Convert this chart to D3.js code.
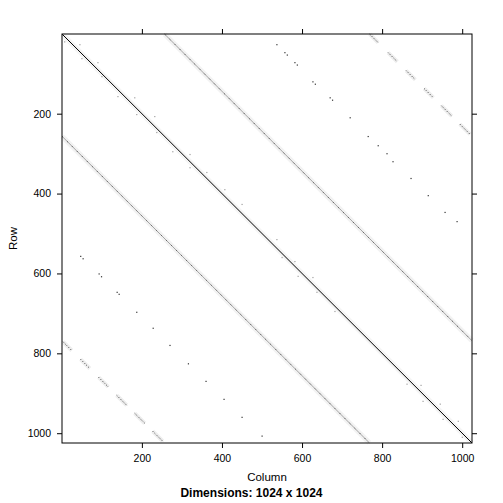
<!DOCTYPE html>
<html>
<head>
<meta charset="utf-8">
<title>Sparse matrix image</title>
<script src="https://d3js.org/d3.v7.min.js"></script>
<style>
  body { margin: 0; background: #fff; }
  text { font-family: "Liberation Sans", Arial, sans-serif; }
</style>
</head>
<body>
<div id="chart"></div>
<script>
// matrix size and axis ticks
const nDim = 1024;
const tickVals = [200, 400, 600, 800, 1000];

// dense bands: [offset (col - row), first row, last row]
const denseBands = [[0, 1, 1024]];
const grayBands = [[256, 1, 768], [-256, 257, 1024]];

// dotted cluster bands (offset +-768): runs of rows where entries sit
const upperRuns768 = [[1, 22], [47, 70], [92, 115], [137, 160], [180, 206], [226, 252]];
const lowerRuns768 = [[771, 793], [815, 838], [860, 884], [905, 930], [950, 975], [995, 1020]];

// sparse entries on the +-512 diagonals: [row, col]
const upper512 = [[27, 537], [47, 557], [53, 563], [72, 582], [78, 588], [120, 627], [126, 633],
  [160, 670], [166, 676], [210, 720], [257, 765], [280, 790], [300, 812], [320, 827],
  [362, 872], [405, 915], [447, 957], [470, 987]];
const lower512 = [[557, 47], [563, 53], [601, 93], [608, 99], [647, 138], [652, 143],
  [697, 187], [737, 228], [780, 270], [826, 316], [870, 360], [915, 405], [960, 450], [1007, 500]];

// scattered entries close to the main diagonal: [row, col]
const nearDiag = [[20, 7], [27, 45], [62, 50], [72, 90], [107, 100], [157, 140], [160, 182],
  [202, 187], [207, 232], [247, 237], [295, 277], [302, 320], [335, 320], [347, 362],
  [390, 407], [427, 450], [515, 537], [560, 550], [570, 582], [607, 590], [610, 627],
  [647, 637], [695, 682], [877, 862], [880, 897], [920, 902], [927, 945], [965, 952],
  [970, 990], [1010, 1000]];

const W = 503, H = 503;
const margin = {top: 34, right: 31, bottom: 60, left: 62};
const w = W - margin.left - margin.right;
const h = H - margin.top - margin.bottom;

const svg = d3.select("#chart").append("svg")
    .attr("width", W)
    .attr("height", H);

const g = svg.append("g")
    .attr("transform", "translate(" + margin.left + "," + margin.top + ")");

const x = d3.scaleLinear().domain([0.5, nDim + 0.5]).range([0, w]);
const y = d3.scaleLinear().domain([0.5, nDim + 0.5]).range([0, h]);

const plot = g.append("g");

// segment along a diagonal
function seg(sel, offset, r0, r1) {
  return sel.append("line")
      .attr("x1", x(r0 + offset))
      .attr("y1", y(r0))
      .attr("x2", x(r1 + offset))
      .attr("y2", y(r1));
}

// soft halos behind the bands
grayBands.forEach(function(b) {
  seg(plot, b[0], b[1], b[2]).attr("stroke", "#f2f2f2").attr("stroke-width", 5);
});
denseBands.forEach(function(b) {
  seg(plot, b[0], b[1], b[2]).attr("stroke", "#f4f4f4").attr("stroke-width", 5);
});

grayBands.forEach(function(b) {
  seg(plot, b[0], b[1], b[2])
      .attr("stroke", "#9a9a9a")
      .attr("stroke-width", 0.9);
  seg(plot, b[0], b[1], b[2])
      .attr("stroke", "#444")
      .attr("stroke-width", 0.9)
      .attr("stroke-dasharray", "1 6");
});

upperRuns768.forEach(function(r) {
  seg(plot, 768, r[0], r[1]).attr("stroke", "#eee").attr("stroke-width", 4);
  seg(plot, 768, r[0], r[1]).attr("stroke", "#333").attr("stroke-width", 1)
      .attr("stroke-dasharray", "1 1.6");
});
lowerRuns768.forEach(function(r) {
  seg(plot, -768, r[0], r[1]).attr("stroke", "#eee").attr("stroke-width", 4);
  seg(plot, -768, r[0], r[1]).attr("stroke", "#333").attr("stroke-width", 1)
      .attr("stroke-dasharray", "1 1.6");
});

denseBands.forEach(function(b) {
  seg(plot, b[0], b[1], b[2])
      .attr("stroke", "#000")
      .attr("stroke-width", 1);
});

plot.selectAll("rect.near")
    .data(nearDiag)
    .enter().append("rect")
    .attr("class", "near")
    .attr("x", d => x(d[1]) - 0.5)
    .attr("y", d => y(d[0]) - 0.5)
    .attr("width", 1.2)
    .attr("height", 1.2)
    .attr("fill", "#a0a0a0");

plot.selectAll("rect.sp")
    .data(upper512.concat(lower512))
    .enter().append("rect")
    .attr("class", "sp")
    .attr("x", d => x(d[1]) - 0.5)
    .attr("y", d => y(d[0]) - 0.5)
    .attr("width", 1.2)
    .attr("height", 1.2)
    .attr("fill", "#333");

// panel border
g.append("rect")
    .attr("width", w)
    .attr("height", h)
    .attr("fill", "none")
    .attr("stroke", "#000")
    .attr("stroke-width", 1);

// axes
const fmt = d3.format("d");
function styleAxis(sel) {
  sel.select(".domain").remove();
  sel.selectAll("line").attr("stroke", "#000");
  sel.selectAll("text").attr("font-size", "10.5px").attr("fill", "#000")
     .attr("font-family", "Liberation Sans, Arial, sans-serif");
}

g.append("g")
    .attr("transform", "translate(0," + h + ")")
    .call(d3.axisBottom(x).tickValues(tickVals).tickFormat(fmt).tickSize(5).tickPadding(7))
    .call(styleAxis);
g.append("g")
    .call(d3.axisTop(x).tickValues(tickVals).tickSize(5).tickFormat(""))
    .call(styleAxis);
g.append("g")
    .call(d3.axisLeft(y).tickValues(tickVals).tickFormat(fmt).tickSize(5).tickPadding(6))
    .call(styleAxis);
g.append("g")
    .attr("transform", "translate(" + w + ",0)")
    .call(d3.axisRight(y).tickValues(tickVals).tickSize(5).tickFormat(""))
    .call(styleAxis);

// labels
svg.append("text")
    .attr("transform", "translate(" + 17 + "," + (margin.top + h / 2) + ") rotate(-90)")
    .style("text-anchor", "middle")
    .attr("font-size", "11.5px")
    .text("Row");

svg.append("text")
    .attr("x", margin.left + w / 2)
    .attr("y", 481)
    .style("text-anchor", "middle")
    .attr("font-size", "11.5px")
    .text("Column");

svg.append("text")
    .attr("x", W / 2)
    .attr("y", 497)
    .style("text-anchor", "middle")
    .attr("font-size", "12px")
    .attr("font-weight", "bold")
    .text("Dimensions: 1024 x 1024");
</script>
</body>
</html>
